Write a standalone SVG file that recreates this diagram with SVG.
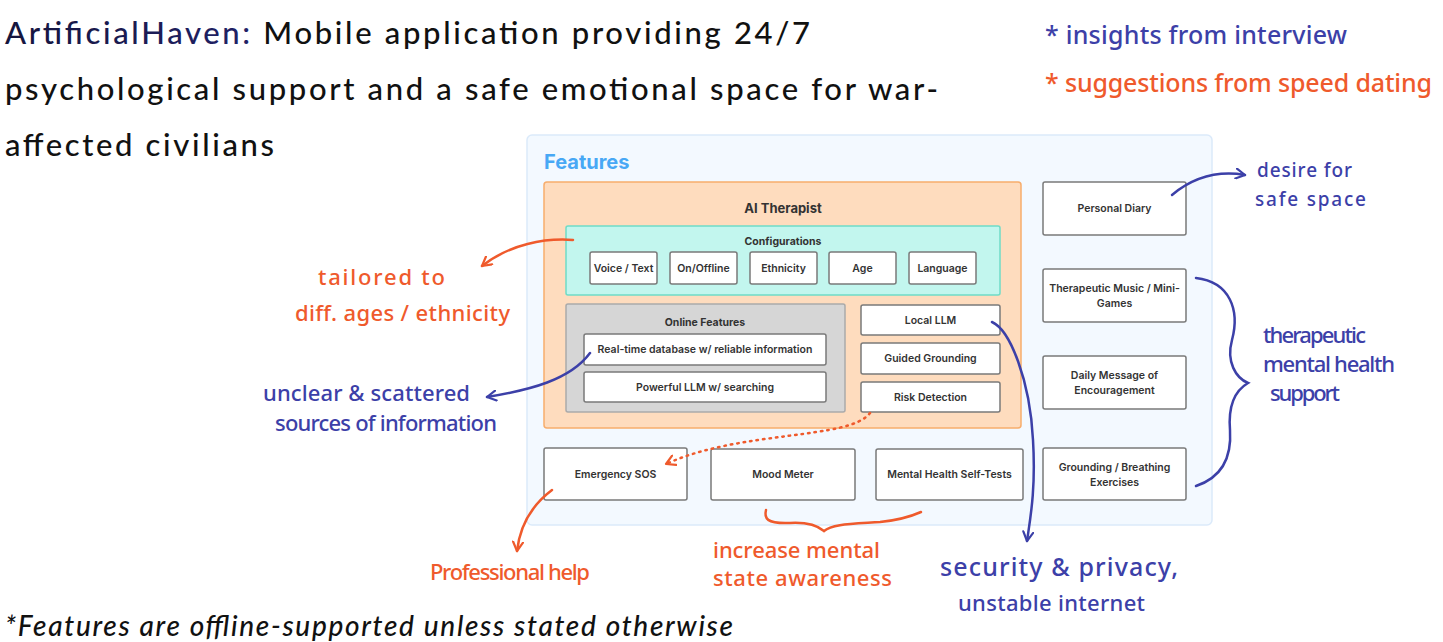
<svg xmlns="http://www.w3.org/2000/svg" width="1443" height="642" viewBox="0 0 1443 642">
<defs>
<linearGradient id="tg" x1="0" y1="0" x2="1" y2="0">
<stop offset="0" stop-color="#15153d"/>
<stop offset="1" stop-color="#3b3bc6"/>
</linearGradient>
<marker id="ab" viewBox="0 0 12 12" refX="10" refY="6" markerWidth="12" markerHeight="12" markerUnits="userSpaceOnUse" orient="auto">
<path d="M1,1 L10,6 L1,11" fill="none" stroke="#3c40a8" stroke-width="2.2" stroke-linecap="round" stroke-linejoin="round"/>
</marker>
<marker id="ao" viewBox="0 0 12 12" refX="10" refY="6" markerWidth="12" markerHeight="12" markerUnits="userSpaceOnUse" orient="auto">
<path d="M1,1 L10,6 L1,11" fill="none" stroke="#ef5a2c" stroke-width="2.2" stroke-linecap="round" stroke-linejoin="round"/>
</marker>
</defs>
<style>
.title{font-family:Lato,"Liberation Sans",sans-serif;font-size:31px;font-weight:500;fill:#111;}
.foot{font-family:Lato,"Liberation Sans",sans-serif;font-size:28px;font-style:italic;font-weight:500;fill:#111;}
.box{fill:#fff;stroke:#7a7a7a;stroke-width:1.5;}
.lbl{font-family:Inter,"Liberation Sans",sans-serif;font-size:10.5px;font-weight:600;fill:#333;text-anchor:middle;}
.hd{font-family:Inter,"Liberation Sans",sans-serif;font-weight:700;fill:#333;text-anchor:middle;}
.hb{font-family:"Noto Sans","DejaVu Sans",sans-serif;font-size:22px;font-weight:500;fill:#3c40a8;}
.ho{font-family:"Noto Sans","DejaVu Sans",sans-serif;font-size:22px;font-weight:500;fill:#ef5a2c;}
.big{font-size:25px;}
.sm{font-size:19px;}
.cb{fill:none;stroke:#3c40a8;stroke-width:2.5;stroke-linecap:round;}
.co{fill:none;stroke:#ef5a2c;stroke-width:2.5;stroke-linecap:round;}
</style>
<rect x="0" y="0" width="1443" height="642" fill="#fff"/>

<g id="title">
<text class="title" x="5" y="44" textLength="805" lengthAdjust="spacing"><tspan fill="url(#tg)">ArtificialHaven:</tspan> Mobile application providing 24/7</text>
<text class="title" x="5" y="100" textLength="933" lengthAdjust="spacing">psychological support and a safe emotional space for war-</text>
<text class="title" x="5" y="156" textLength="269" lengthAdjust="spacing">affected civilians</text>
</g>

<g id="legend">
<text class="hb big" x="1045" y="44" textLength="302" lengthAdjust="spacing">* insights from interview</text>
<text class="ho big" x="1045" y="92" textLength="387" lengthAdjust="spacing">* suggestions from speed dating</text>
</g>

<g id="features">
<rect x="527" y="135" width="685" height="390" rx="5" fill="#f3f9ff" stroke="#dbeafa" stroke-width="1.5"/>
<text x="544" y="169" font-family="Inter,'Liberation Sans',sans-serif" font-size="20" font-weight="700" fill="#47a8f5">Features</text>
</g>

<g id="ai-therapist">
<rect x="544" y="182" width="477" height="246" rx="3" fill="#fedcbe" stroke="#f7ad6c" stroke-width="1.5"/>
<text class="hd" x="783" y="213" font-size="13">AI Therapist</text>
</g>

<g id="configurations">
<rect x="566" y="226" width="434" height="69" rx="2" fill="#c2f6ee" stroke="#6fdcc7" stroke-width="1.5"/>
<text class="hd" x="783" y="245" font-size="10.5">Configurations</text>
</g>
<g id="cfg-voice"><rect class="box" x="590" y="252" width="67" height="32" rx="2"/><text class="lbl" x="623.5" y="272">Voice / Text</text></g>
<g id="cfg-online"><rect class="box" x="670" y="252" width="67" height="32" rx="2"/><text class="lbl" x="703.5" y="272">On/Offline</text></g>
<g id="cfg-ethnicity"><rect class="box" x="750" y="252" width="67" height="32" rx="2"/><text class="lbl" x="783.5" y="272">Ethnicity</text></g>
<g id="cfg-age"><rect class="box" x="829" y="252" width="67" height="32" rx="2"/><text class="lbl" x="862.5" y="272">Age</text></g>
<g id="cfg-language"><rect class="box" x="909" y="252" width="67" height="32" rx="2"/><text class="lbl" x="942.5" y="272">Language</text></g>

<g id="online-features">
<rect x="566" y="304" width="279" height="108" rx="2" fill="#d6d6d6" stroke="#aaaaaa" stroke-width="1.5"/>
<text class="hd" x="705" y="326" font-size="10.5">Online Features</text>
</g>
<g id="realtime-db"><rect class="box" x="584" y="334" width="242" height="31" rx="2"/><text class="lbl" x="705" y="353">Real-time database w/ reliable information</text></g>
<g id="powerful-llm"><rect class="box" x="584" y="372" width="242" height="30" rx="2"/><text class="lbl" x="705" y="391">Powerful LLM w/ searching</text></g>

<g id="local-llm"><rect class="box" x="861" y="305" width="139" height="30" rx="2"/><text class="lbl" x="930.5" y="324">Local LLM</text></g>
<g id="guided-grounding"><rect class="box" x="861" y="343" width="139" height="31" rx="2"/><text class="lbl" x="930.5" y="362">Guided Grounding</text></g>
<g id="risk-detection"><rect class="box" x="861" y="382" width="139" height="30" rx="2"/><text class="lbl" x="930.5" y="401">Risk Detection</text></g>

<g id="emergency-sos"><rect class="box" x="544" y="448" width="143" height="52" rx="2"/><text class="lbl" x="615.5" y="478">Emergency SOS</text></g>
<g id="mood-meter"><rect class="box" x="711" y="449" width="144" height="51" rx="2"/><text class="lbl" x="783" y="478">Mood Meter</text></g>
<g id="self-tests"><rect class="box" x="876" y="449" width="147" height="51" rx="2"/><text class="lbl" x="949.5" y="478">Mental Health Self-Tests</text></g>

<g id="personal-diary"><rect class="box" x="1043" y="182" width="143" height="53" rx="2"/><text class="lbl" x="1114.5" y="212">Personal Diary</text></g>
<g id="therapeutic-music"><rect class="box" x="1043" y="269" width="143" height="53" rx="2"/><text class="lbl" x="1114.5" y="292">Therapeutic Music / Mini-</text><text class="lbl" x="1114.5" y="307">Games</text></g>
<g id="daily-message"><rect class="box" x="1043" y="356" width="143" height="53" rx="2"/><text class="lbl" x="1114.5" y="379">Daily Message of</text><text class="lbl" x="1114.5" y="394">Encouragement</text></g>
<g id="grounding-breathing"><rect class="box" x="1043" y="448" width="143" height="52" rx="2"/><text class="lbl" x="1114.5" y="471">Grounding / Breathing</text><text class="lbl" x="1114.5" y="486">Exercises</text></g>

<g id="connectors">
<path class="co" d="M573,240 C545,238 510,244 482,266" marker-end="url(#ao)"/>
<path class="cb" d="M590,353 C570,380 530,390 487,397" marker-end="url(#ab)"/>
<path class="cb" d="M1172,195 C1190,180 1215,170 1245,175" marker-end="url(#ab)"/>
<path class="co" d="M870,413 C850,440 740,430 666,464" stroke-dasharray="1.5 5" marker-end="url(#ao)"/>
<path class="co" d="M552,490 C532,505 520,525 517,551" marker-end="url(#ao)"/>
<path class="cb" d="M992,322 C1010,330 1030,380 1033,440 C1036,490 1030,520 1027,541" marker-end="url(#ab)"/>
<path class="cb" d="M1196,278 C1230,282 1240,310 1232,340 C1226,362 1236,378 1248,383 C1236,390 1228,405 1230,430 C1232,460 1220,478 1196,486"/>
<path class="co" d="M766,510 C764,518 766,524 790,523 C808,522 818,526 824,531 C832,524 850,524 880,522 C900,520 912,516 921,512"/>
</g>

<g id="annotations">
<text class="hb sm" x="1257" y="177" textLength="95" lengthAdjust="spacing">desire for</text>
<text class="hb sm" x="1255" y="206" textLength="111" lengthAdjust="spacing">safe space</text>
<text class="hb" x="1263" y="343" textLength="103" lengthAdjust="spacing">therapeutic</text>
<text class="hb" x="1263" y="372" textLength="132" lengthAdjust="spacing">mental health</text>
<text class="hb" x="1270" y="401" textLength="70" lengthAdjust="spacing">support</text>
<text class="ho" x="318" y="285" textLength="127" lengthAdjust="spacing">tailored to</text>
<text class="ho" x="295" y="321" textLength="215" lengthAdjust="spacing">diff. ages / ethnicity</text>
<text class="hb" x="263" y="401" textLength="207" lengthAdjust="spacing">unclear &amp; scattered</text>
<text class="hb" x="275" y="431" textLength="222" lengthAdjust="spacing">sources of information</text>
<text class="ho" x="430" y="580" textLength="160" lengthAdjust="spacing">Professional help</text>
<text class="ho" x="713" y="558" textLength="167" lengthAdjust="spacing">increase mental</text>
<text class="ho" x="713" y="586" textLength="179" lengthAdjust="spacing">state awareness</text>
<text class="hb big" x="940" y="576" textLength="238" lengthAdjust="spacing">security &amp; privacy,</text>
<text class="hb" x="958" y="611" textLength="187" lengthAdjust="spacing">unstable internet</text>
</g>

<g id="footer">
<text class="foot" x="5" y="636" textLength="728" lengthAdjust="spacing">*Features are offline-supported unless stated otherwise</text>
</g>
</svg>
